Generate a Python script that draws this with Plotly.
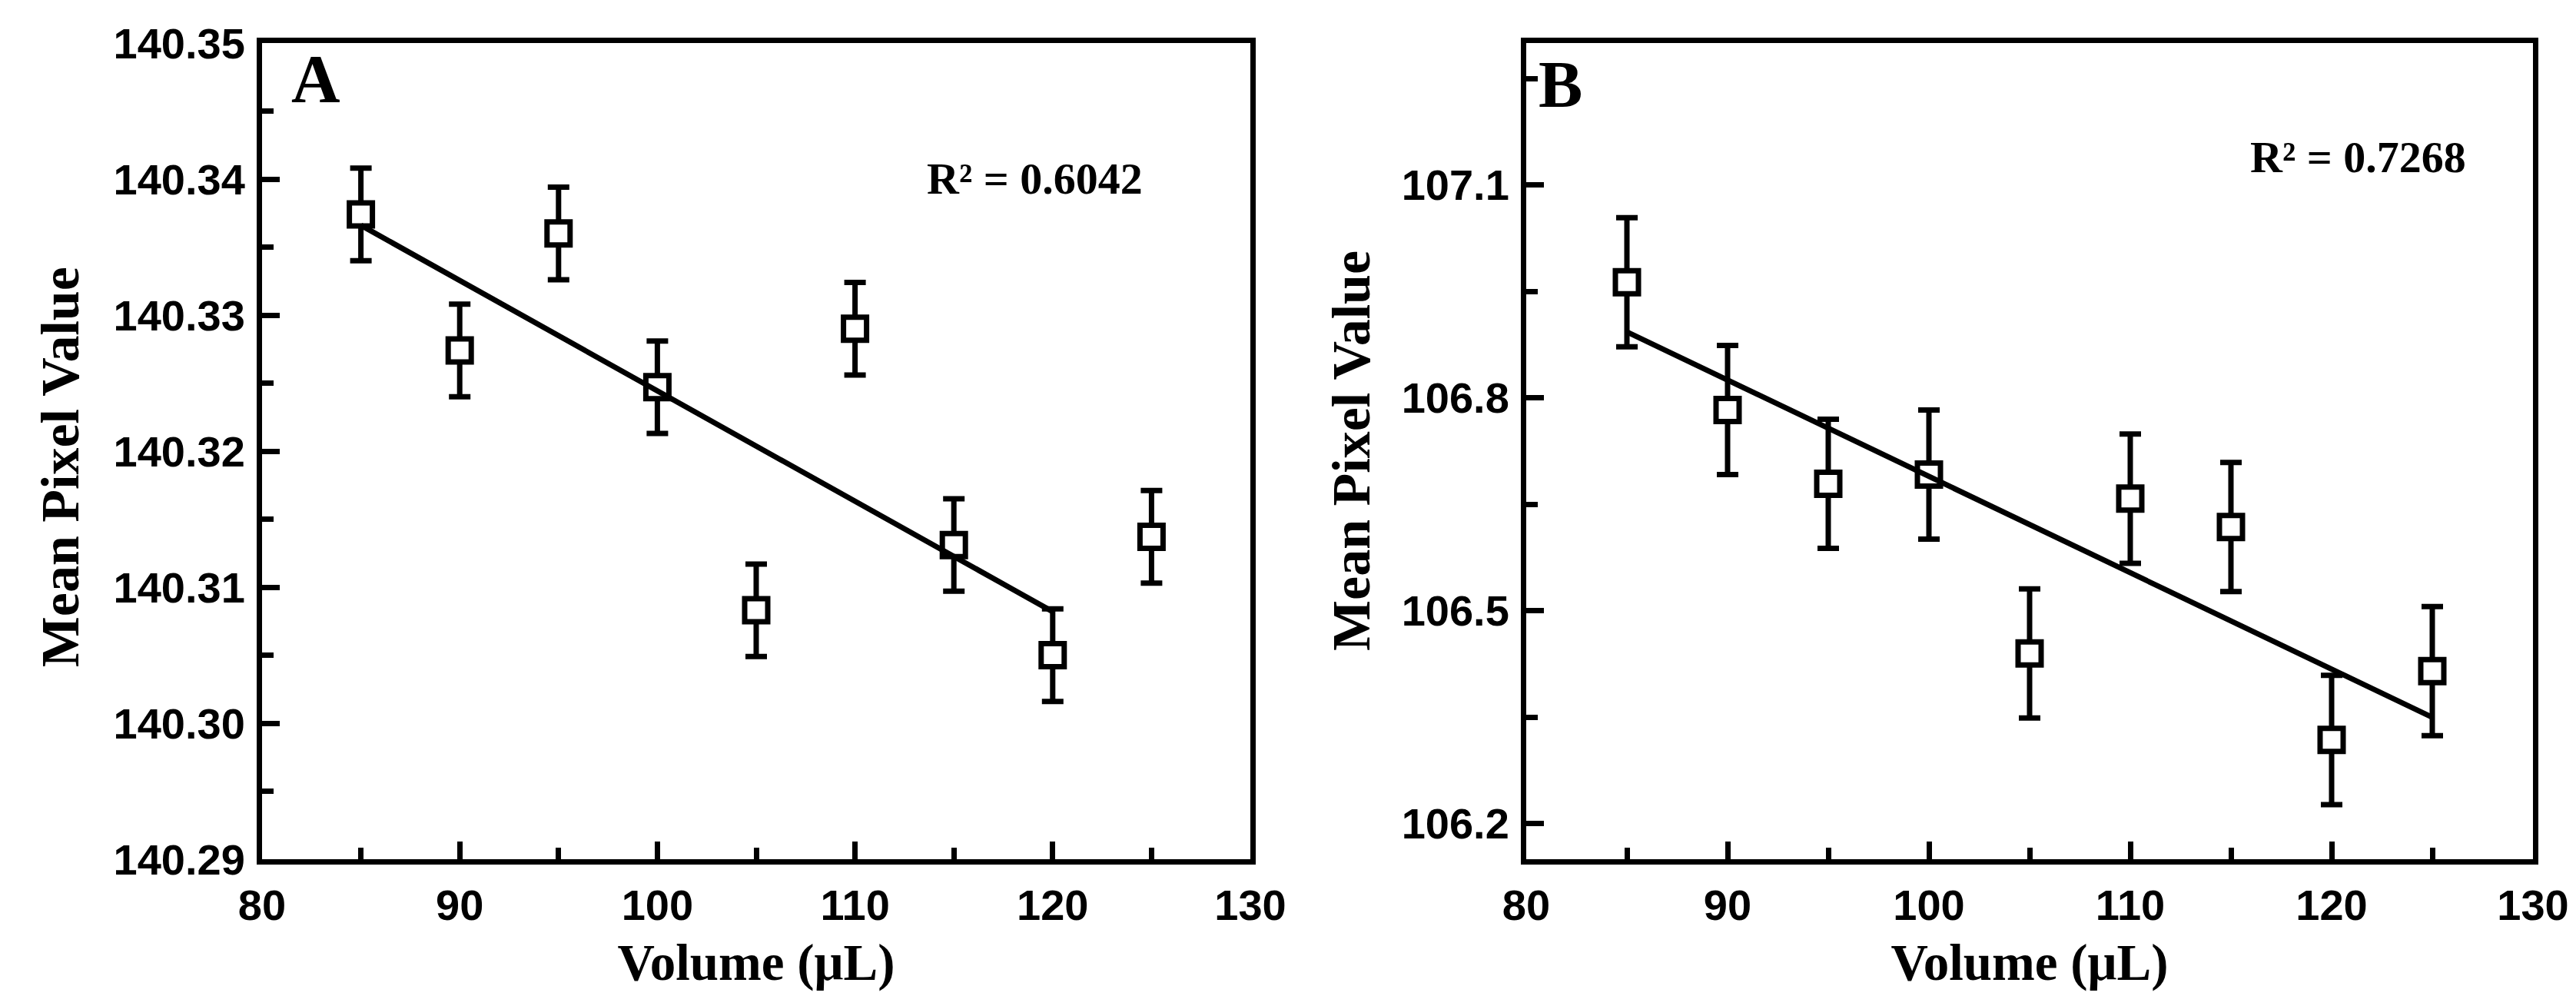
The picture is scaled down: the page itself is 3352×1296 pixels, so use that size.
import numpy as np
import plotly.graph_objects as go

# ---------------- data ----------------
volume = [85, 90, 95, 100, 105, 110, 115, 120, 125]

mean_a = [140.3374, 140.3274, 140.3360, 140.3247, 140.3083, 140.3290, 140.3131, 140.3050, 140.3137]
err_a = [0.0034, 0.0034, 0.0034, 0.0034, 0.0034, 0.0034, 0.0034, 0.0034, 0.0034]
fit_a_x = [85, 120]
fit_a_y = [140.3366, 140.3082]
r2_a = "R² = 0.6042"

mean_b = [106.963, 106.783, 106.679, 106.692, 106.440, 106.658, 106.618, 106.318, 106.415]
err_b = [0.091, 0.091, 0.091, 0.091, 0.091, 0.091, 0.091, 0.091, 0.091]
fit_b_x = [85, 125]
fit_b_y = [106.893, 106.350]
r2_b = "R² = 0.7268"

x_ticks = [80, 90, 100, 110, 120, 130]
ya_ticks = [140.29, 140.30, 140.31, 140.32, 140.33, 140.34, 140.35]
yb_ticks = [106.2, 106.5, 106.8, 107.1]

x_title = "Volume (μL)"
y_title = "Mean Pixel Value"

# ---------------- styling ----------------
W, H = 3352, 1296
serif = "Liberation Serif, Times New Roman, serif"
sans = "Liberation Sans, Arial, sans-serif"
LW = 7

fig = go.Figure()


def add_panel(xref, yref, y, err, fx, fy):
    fig.add_trace(go.Scatter(
        x=volume, y=y, mode="markers", xaxis=xref, yaxis=yref,
        marker=dict(symbol="square", size=30, color="white",
                    line=dict(color="black", width=7)),
        error_y=dict(type="data", array=err, visible=True, color="black",
                     thickness=7, width=14),
        showlegend=False, hoverinfo="x+y"))
    fig.add_trace(go.Scatter(
        x=fx, y=fy, mode="lines", xaxis=xref, yaxis=yref,
        line=dict(color="black", width=7), showlegend=False))


add_panel("x", "y", mean_a, err_a, fit_a_x, fit_a_y)
add_panel("x2", "y2", mean_b, err_b, fit_b_x, fit_b_y)


def xaxis_cfg(domain, anchor):
    return dict(
        domain=domain, anchor=anchor, range=[80, 130], automargin=False,
        tickmode="array", tickvals=x_ticks,
        ticks="inside", ticklen=23, tickwidth=LW, tickcolor="black",
        minor=dict(ticks="inside", ticklen=15, tickwidth=LW, tickcolor="black",
                   tick0=85, dtick=10),
        showline=True, linewidth=LW, linecolor="black", mirror=True,
        showgrid=False, zeroline=False,
        tickfont=dict(family=sans, size=56, color="black", weight="bold"),
        ticklabelstandoff=5,
        title=dict(text=x_title, standoff=22,
                   font=dict(family=serif, size=67, color="black", weight="bold")),
    )


def yaxis_cfg(domain, anchor, rng, ticks, fmt, mdtick, mtick0):
    return dict(
        domain=domain, anchor=anchor, range=rng, automargin=False,
        tickmode="array", tickvals=ticks, tickformat=fmt,
        ticks="inside", ticklen=23, tickwidth=LW, tickcolor="black",
        minor=dict(ticks="inside", ticklen=15, tickwidth=LW, tickcolor="black",
                   tick0=mtick0, dtick=mdtick),
        showline=True, linewidth=LW, linecolor="black", mirror=True,
        showgrid=False, zeroline=False,
        tickfont=dict(family=sans, size=56, color="black", weight="bold"),
        ticklabelstandoff=4,
    )


yd = [(H - 1110) / H, (H - 48) / H]
fig.update_layout(
    width=W, height=H, autosize=False,
    margin=dict(l=0, r=0, t=0, b=0, pad=0),
    paper_bgcolor="white", plot_bgcolor="white",
    xaxis=xaxis_cfg([333 / W, 1619 / W], "y"),
    yaxis=yaxis_cfg(yd, "x", [140.29, 140.35], ya_ticks, ".2f", 0.01, 140.295),
    xaxis2=xaxis_cfg([1978 / W, 3288 / W], "y2"),
    yaxis2=yaxis_cfg(yd, "x2", [106.15, 107.3], yb_ticks, ".1f", 0.3, 106.05),
)

title_font = dict(family=serif, size=70, color="black", weight="bold")
fig.add_annotation(text=y_title, xref="paper", yref="y domain", x=70 / W, y=0.480,
                   xanchor="center", yanchor="middle", textangle=-90,
                   showarrow=False, font=title_font)
fig.add_annotation(text=y_title, xref="paper", yref="y2 domain", x=1750 / W, y=0.50,
                   xanchor="center", yanchor="middle", textangle=-90,
                   showarrow=False, font=title_font)

ann_font = dict(family=serif, color="black", weight="bold")
fig.add_annotation(text="A", xref="x domain", yref="y domain", x=0.028, y=1.004,
                   xanchor="left", yanchor="top", showarrow=False,
                   font=dict(size=88, **ann_font))
fig.add_annotation(text="B", xref="x2 domain", yref="y2 domain", x=0.011, y=0.996,
                   xanchor="left", yanchor="top", showarrow=False,
                   font=dict(size=86, **ann_font))
fig.add_annotation(text=r2_a, xref="x domain", yref="y domain", x=0.7815, y=0.834,
                   xanchor="center", yanchor="middle", showarrow=False,
                   font=dict(size=58, **ann_font))
fig.add_annotation(text=r2_b, xref="x2 domain", yref="y2 domain", x=0.826, y=0.86,
                   xanchor="center", yanchor="middle", showarrow=False,
                   font=dict(size=58, **ann_font))

fig.write_html("out.html")
